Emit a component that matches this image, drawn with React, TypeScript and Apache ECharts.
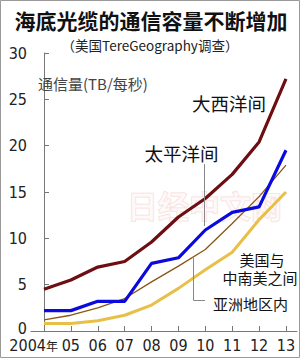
import React, { useEffect, useRef } from "react";
import * as echarts from "echarts";

const years = ["2004年", "05", "06", "07", "08", "09", "10", "11", "12", "13"];
const atlantic = [4.5, 5.5, 6.9, 7.5, 9.6, 12.3, 14.3, 16.9, 20.4, 27.2];
const pacific = [2.2, 2.2, 3.2, 3.2, 7.3, 7.9, 10.9, 12.8, 13.4, 19.5];
const usLatam = [1.2, 1.7, 2.5, 3.5, 5.3, 7.0, 8.8, 11.6, 14.5, 17.9];
const intraAsia = [0.8, 0.8, 1.1, 1.7, 2.8, 4.6, 6.6, 8.5, 12.0, 15.0];
const yTicks = [0, 5, 10, 15, 20, 25, 30];

const CJK = '"Noto Sans CJK SC", "Noto Sans", sans-serif';
const NUM = '"Liberation Sans Narrow", "DejaVu Sans Condensed", "Liberation Sans", sans-serif';

function pts(arr: number[]) {
  return arr.map((v, i) => [i, v]);
}

export default function App() {
  const ref = useRef<HTMLDivElement>(null);
  useEffect(() => {
    if (!ref.current) return;
    const chart = echarts.init(ref.current, undefined, { renderer: "svg" });
    const idx = years.map((_, i) => i);
    const rest = idx.slice(1);
    const txt = (text: string, x: number, y: number, size: number, extra: any = {}) => ({
      type: "text",
      x,
      y,
      z: 10,
      style: {
        text,
        font: `${size}px ${CJK}`,
        fill: "#111",
        lineHeight: size,
        textAlign: "center",
        textVerticalAlign: "middle",
        ...extra,
      },
    });
    const baseX = {
      type: "value",
      min: -0.483,
      max: 9.41,
      splitLine: { show: false },
    };
    const firstYear = years[0].replace("年", "");
    chart.setOption({
      animation: false,
      backgroundColor: "#fff",
      grid: { left: 31, right: 3, top: 53, bottom: 27 },
      xAxis: [
        {
          ...baseX,
          axisLine: { show: true, lineStyle: { color: "#777", width: 1 } },
          axisTick: {
            show: true,
            inside: true,
            length: 5,
            customValues: idx,
            lineStyle: { color: "#777" },
          },
          axisLabel: {
            customValues: rest,
            formatter: (v: number) => years[Math.round(v)] ?? "",
            fontFamily: NUM,
            fontSize: 16,
            lineHeight: 14,
            color: "#222",
            margin: 7,
          },
        },
        {
          ...baseX,
          position: "bottom",
          axisLine: { show: false },
          axisTick: { show: false },
          axisLabel: {
            customValues: [0.52],
            showMinLabel: true,
            align: "right",
            formatter: () => `{d|${firstYear}}{y|年}`,
            color: "#222",
            margin: 7,
            rich: {
              d: { fontFamily: NUM, fontSize: 16, lineHeight: 14, color: "#222" },
              y: { fontFamily: CJK, fontSize: 12, lineHeight: 14, color: "#222" },
            },
          },
        },
      ],
      yAxis: {
        type: "value",
        min: 0,
        max: 30,
        interval: 5,
        splitLine: { show: false },
        axisLine: { show: true, lineStyle: { color: "#777", width: 1 } },
        axisTick: { show: true, inside: true, length: 5, lineStyle: { color: "#777" } },
        axisLabel: {
          formatter: (v: number) =>
            v === 0 ? "{z|0}" : yTicks.includes(v) ? String(v) : "",
          fontFamily: NUM,
          fontSize: 16,
          lineHeight: 11,
          color: "#222",
          margin: 4,
          rich: {
            z: {
              fontFamily: NUM,
              fontSize: 16,
              lineHeight: 11,
              color: "#222",
              padding: [0, 0, 6, 0],
            },
          },
        },
      },
      graphic: [
        {
          type: "rect",
          shape: { x: 0.5, y: 0.5, width: 299, height: 357 },
          style: { fill: "none", stroke: "#999", lineWidth: 1 },
          z: 0,
          silent: true,
        },
        {
          type: "text",
          x: 127,
          y: 204,
          z: 0,
          style: {
            text: "日经中文网",
            font: `bold 31px ${CJK}`,
            fill: "rgba(255,246,246,0.5)",
            stroke: "#f9dcdc",
            lineWidth: 1,
            textAlign: "left",
            textVerticalAlign: "middle",
          },
        },
        txt("海底光缆的通信容量不断增加", 151, 20, 21, { font: `bold 21px ${CJK}` }),
        txt("（美国TereGeography调查）", 150, 45, 13.5, { fill: "#222" }),
        txt("通信量(TB/每秒)", 38, 83, 15, { textAlign: "left", fill: "#444" }),
        txt("大西洋间", 229, 103, 18.5),
        txt("太平洋间", 181.5, 153, 18.5),
        txt("美国与", 262, 259, 15),
        txt("中南美之间", 260, 277, 15),
        txt("亚洲地区内", 250.5, 303, 15),
        {
          type: "line",
          z: 10,
          shape: { x1: 204.5, y1: 164, x2: 204.5, y2: 226 },
          style: { stroke: "#888", lineWidth: 1 },
        },
        {
          type: "polyline",
          z: 10,
          shape: { points: [[193.5, 258], [193.5, 300.5], [205, 300.5]] },
          style: { stroke: "#888", lineWidth: 1, fill: "none" },
        },
      ],
      series: [
        {
          type: "line",
          data: pts(intraAsia),
          showSymbol: false,
          z: 3,
          lineStyle: { color: "#e8c048", width: 3 },
        },
        {
          type: "line",
          data: pts(usLatam),
          showSymbol: false,
          z: 4,
          lineStyle: { color: "#8a5516", width: 1.3 },
        },
        {
          type: "line",
          data: pts(pacific),
          showSymbol: false,
          z: 5,
          lineStyle: { color: "#0a0ade", width: 3.2 },
        },
        {
          type: "line",
          data: pts(atlantic),
          showSymbol: false,
          z: 6,
          lineStyle: { color: "#6e0e12", width: 3.2 },
        },
      ],
    });
    return () => chart.dispose();
  }, []);
  return (
    <div
      ref={ref}
      style={{ position: "fixed", left: 0, top: 0, width: 300, height: 358, background: "#fff" }}
    />
  );
}
